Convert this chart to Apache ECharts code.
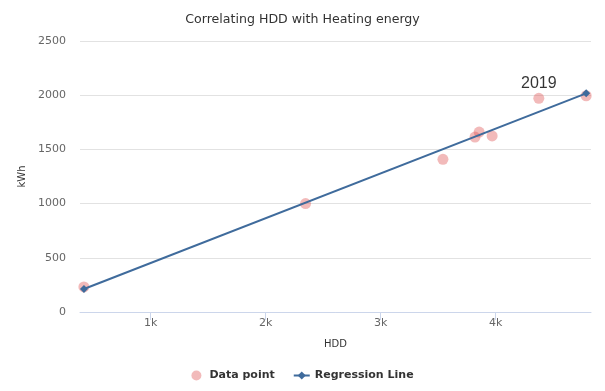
<!DOCTYPE html>
<html><head><meta charset="utf-8">
<script src="https://cdn.jsdelivr.net/npm/echarts@6/dist/echarts.min.js"></script>
<style>html,body{margin:0;padding:0;background:#fff}#c{width:605px;height:391px}</style>
</head><body><div id="c"></div>
<script>
const hdd = [419, 2347, 3542, 3821, 3857, 3970, 4376, 4788];
const kwh = [231, 1000, 1408, 1614, 1660, 1624, 1971, 1995];
const pointLabels = ['', '', '', '', '', '', '2019', ''];
const regX = [419, 4788];
const regY = [212, 2017];
const xTicks = [1000, 2000, 3000, 4000];
const yTicks = [0, 500, 1000, 1500, 2000, 2500];

const font = 'DejaVu Sans';
const chart = echarts.init(document.getElementById('c'), null, {renderer: 'canvas'});
chart.setOption({
  animation: false,
  textStyle: {fontFamily: font},
  title: {text: 'Correlating HDD with Heating energy', left: 'center', top: 8,
    textStyle: {fontFamily: font, fontSize: 12.6, fontWeight: 'normal', color: '#333'}},
  grid: {left: 80, right: 14, top: 41, bottom: 79},
  legend: {bottom: 5, left: 'center', itemGap: 18, itemWidth: 16, itemHeight: 10,
    textStyle: {fontFamily: font, fontSize: 11, fontWeight: 'bold', color: '#333'},
    data: ['Data point', 'Regression Line']},
  xAxis: {type: 'value', min: 385, max: 4830,
    name: 'HDD', nameLocation: 'middle', nameGap: 27,
    nameTextStyle: {fontFamily: font, fontSize: 10, color: '#333'},
    axisLine: {show: true, lineStyle: {color: '#ccd6eb'}},
    axisTick: {show: true, length: 8, lineStyle: {color: '#ccd6eb'}, customValues: xTicks},
    axisLabel: {customValues: xTicks, color: '#666', fontSize: 11, margin: 6,
      formatter: v => (v / 1000) + 'k'},
    splitLine: {show: false}},
  yAxis: {type: 'value', min: yTicks[0], max: yTicks[yTicks.length - 1], interval: 500,
    name: 'kWh', nameLocation: 'middle', nameGap: 52, nameRotate: 90,
    nameTextStyle: {fontFamily: font, fontSize: 10, color: '#333'},
    axisLine: {show: false}, axisTick: {show: false},
    axisLabel: {color: '#666', fontSize: 11, margin: 14, formatter: v => String(v)},
    splitLine: {lineStyle: {color: '#e2e2e2'}}},
  series: [
    {name: 'Data point', type: 'scatter', symbolSize: 11,
      itemStyle: {color: 'rgba(223,83,83,0.5)'},
      data: hdd.map((x, i) => ({value: [x, kwh[i]],
        label: pointLabels[i] ? {show: true, formatter: pointLabels[i], position: 'top', distance: 1,
          fontFamily: 'Liberation Sans', fontSize: 16, color: '#000'} : {show: false}}))},
    {name: 'Regression Line', type: 'line', symbol: 'diamond', symbolSize: 8, showSymbol: true,
      lineStyle: {color: '#3f6b9c', width: 2}, itemStyle: {color: '#3f6b9c'},
      data: regX.map((x, i) => [x, regY[i]])}
  ]
});
</script></body></html>
